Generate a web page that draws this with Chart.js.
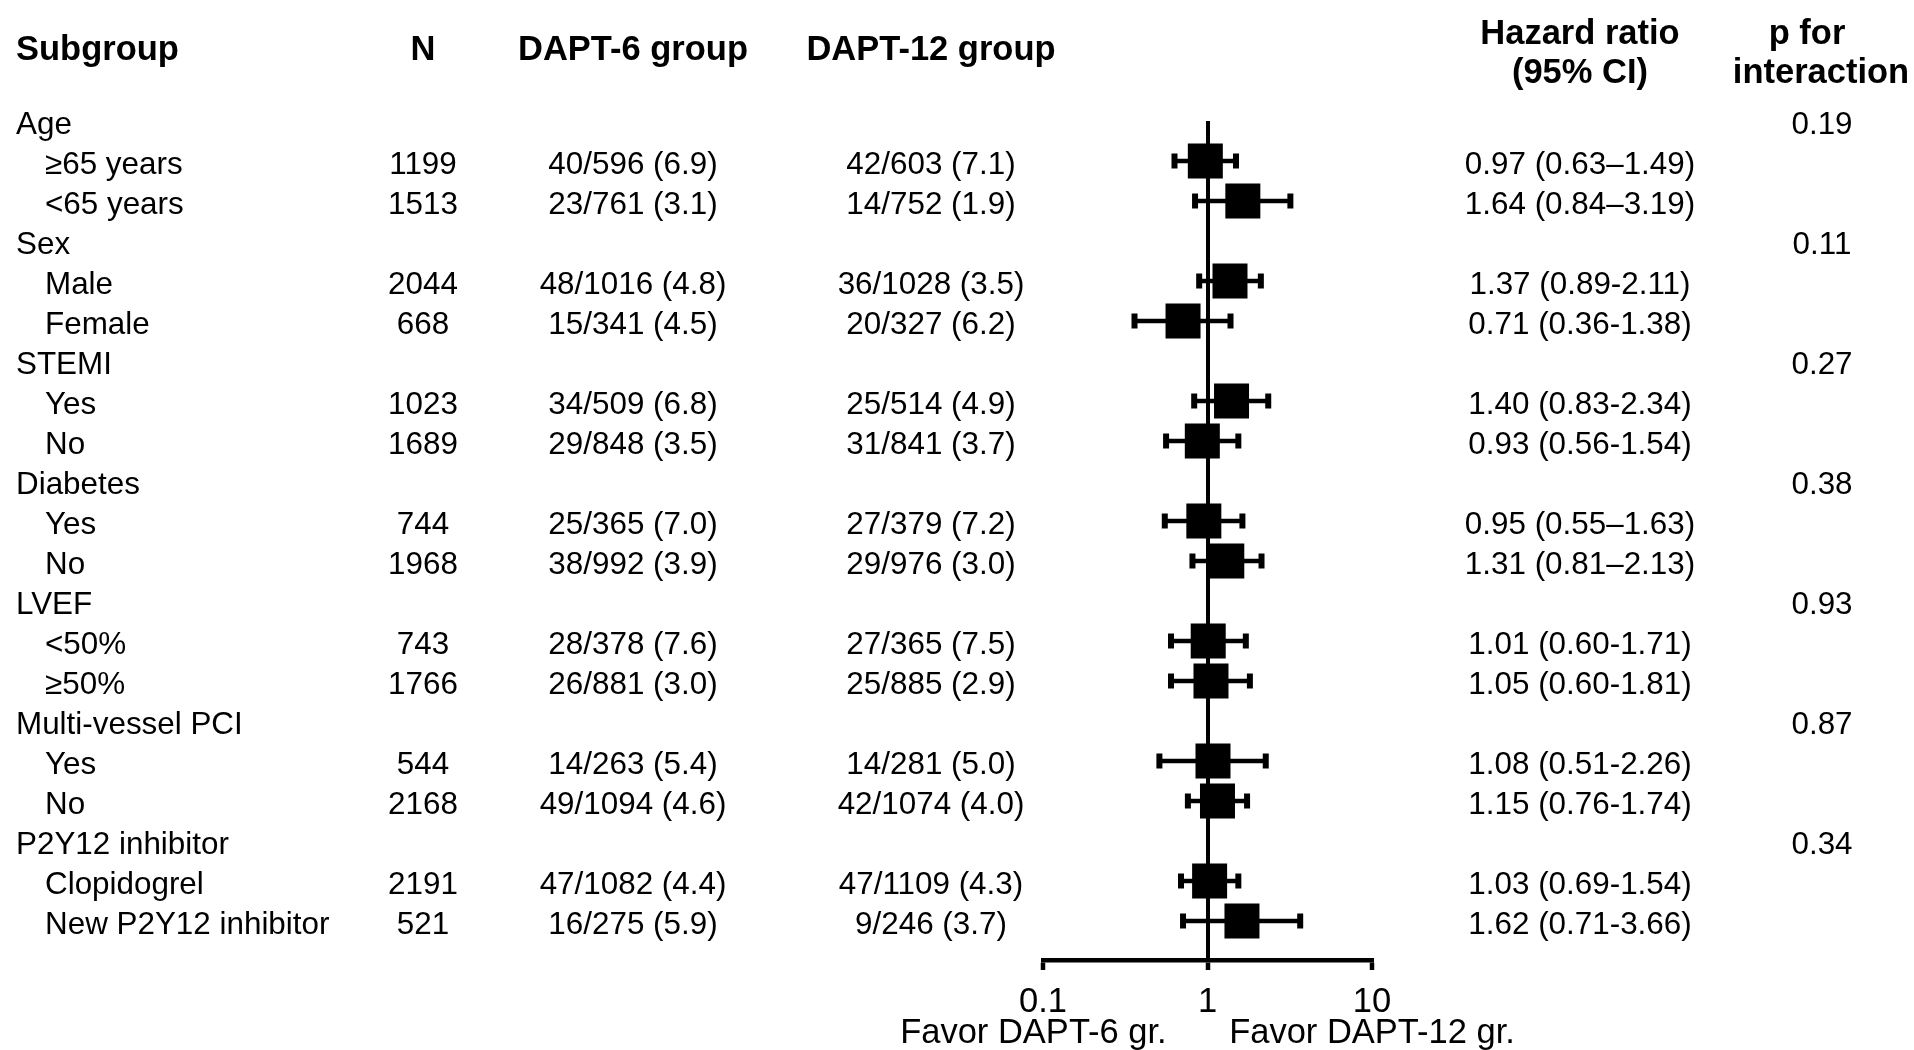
<!DOCTYPE html>
<html>
<head>
<meta charset="utf-8">
<title>Subgroup analysis - forest plot</title>
<script src="https://cdn.jsdelivr.net/npm/chart.js@4.4.1/dist/chart.umd.min.js"></script>
<style>
    html, body { margin: 0; padding: 0; background: #ffffff; }
    #wrap { position: relative; width: 1914px; height: 1050px; }
</style>
</head>
<body>
<div id="wrap"><canvas id="forest-chart"></canvas></div>
<script>
// Table rows (group headings have no N)
const subgroups = ['Age', '≥65 years', '<65 years', 'Sex', 'Male', 'Female', 'STEMI', 'Yes', 'No',
    'Diabetes', 'Yes', 'No', 'LVEF', '<50%', '≥50%', 'Multi-vessel PCI', 'Yes', 'No',
    'P2Y12 inhibitor', 'Clopidogrel', 'New P2Y12 inhibitor'];
const patients = [null, 1199, 1513, null, 2044, 668, null, 1023, 1689, null, 744, 1968,
    null, 743, 1766, null, 544, 2168, null, 2191, 521];
const dapt6Events = ['', '40/596 (6.9)', '23/761 (3.1)', '', '48/1016 (4.8)', '15/341 (4.5)', '',
    '34/509 (6.8)', '29/848 (3.5)', '', '25/365 (7.0)', '38/992 (3.9)', '', '28/378 (7.6)',
    '26/881 (3.0)', '', '14/263 (5.4)', '49/1094 (4.6)', '', '47/1082 (4.4)', '16/275 (5.9)'];
const dapt12Events = ['', '42/603 (7.1)', '14/752 (1.9)', '', '36/1028 (3.5)', '20/327 (6.2)', '',
    '25/514 (4.9)', '31/841 (3.7)', '', '27/379 (7.2)', '29/976 (3.0)', '', '27/365 (7.5)',
    '25/885 (2.9)', '', '14/281 (5.0)', '42/1074 (4.0)', '', '47/1109 (4.3)', '9/246 (3.7)'];

// Hazard ratios with 95% CI
const hazardRatio = [null, 0.97, 1.64, null, 1.37, 0.71, null, 1.40, 0.93, null, 0.95, 1.31,
    null, 1.01, 1.05, null, 1.08, 1.15, null, 1.03, 1.62];
const ciLower = [null, 0.63, 0.84, null, 0.89, 0.36, null, 0.83, 0.56, null, 0.55, 0.81,
    null, 0.60, 0.60, null, 0.51, 0.76, null, 0.69, 0.71];
const ciUpper = [null, 1.49, 3.19, null, 2.11, 1.38, null, 2.34, 1.54, null, 1.63, 2.13,
    null, 1.71, 1.81, null, 2.26, 1.74, null, 1.54, 3.66];
const hrLabels = ['', '0.97 (0.63–1.49)', '1.64 (0.84–3.19)', '', '1.37 (0.89-2.11)', '0.71 (0.36-1.38)', '',
    '1.40 (0.83-2.34)', '0.93 (0.56-1.54)', '', '0.95 (0.55–1.63)', '1.31 (0.81–2.13)', '',
    '1.01 (0.60-1.71)', '1.05 (0.60-1.81)', '', '1.08 (0.51-2.26)', '1.15 (0.76-1.74)', '',
    '1.03 (0.69-1.54)', '1.62 (0.71-3.66)'];
const pInteraction = ['0.19', '', '', '0.11', '', '', '0.27', '', '', '0.38', '', '', '0.93', '', '',
    '0.87', '', '', '0.34', '', ''];

// Axis ticks (trailing spaces nudge the left caption off the 0.1 tick, as in the original)
const tickValues = [0.1, 1, 10];
const tickLabels = [['0.1', 'Favor DAPT-6 gr.  '], '1', ['10', 'Favor DAPT-12 gr.']];

const FONT = '"Liberation Sans", Arial, Helvetica, sans-serif';

// rows that carry an estimate
const estRows = subgroups.map(function (_, i) { return i; })
    .filter(function (i) { return hazardRatio[i] !== null; });

// Draws the table columns next to the plot, aligned on the y scale
const tablePlugin = {
    id: 'tableText',
    afterDraw: function (chart) {
        const ctx = chart.ctx;
        const yScale = chart.scales.y;
        const col = { label: 16, indent: 45, n: 423, dapt6: 633, dapt12: 931, hr: 1580, pv: 1822 };

        ctx.save();
        ctx.fillStyle = '#000';
        ctx.textBaseline = 'alphabetic';

        // header
        ctx.font = 'bold 34.5px ' + FONT;
        ctx.textAlign = 'left';
        ctx.fillText('Subgroup', col.label, 60);
        ctx.textAlign = 'center';
        ctx.fillText('N', col.n, 60);
        ctx.fillText('DAPT-6 group', col.dapt6, 60);
        ctx.fillText('DAPT-12 group', col.dapt12, 60);
        ctx.fillText('Hazard ratio', col.hr, 44);
        ctx.fillText('(95% CI)', col.hr, 83);
        ctx.fillText('p for', 1807, 44);
        ctx.fillText('interaction', 1821, 83);

        // body
        ctx.font = '31.4px ' + FONT;
        subgroups.forEach(function (name, i) {
            const y = yScale.getPixelForValue(i) + 13;
            const isGroup = patients[i] === null;
            ctx.textAlign = 'left';
            ctx.fillText(name, isGroup ? col.label : col.indent, y);
            ctx.textAlign = 'center';
            if (!isGroup) {
                ctx.fillText(String(patients[i]), col.n, y);
            }
            ctx.fillText(dapt6Events[i], col.dapt6, y);
            ctx.fillText(dapt12Events[i], col.dapt12, y);
            ctx.fillText(hrLabels[i], col.hr, y);
            ctx.fillText(pInteraction[i], col.pv, y);
        });
        ctx.restore();
    }
};

// Confidence interval whiskers, one small line per row
const ciDatasets = estRows.map(function (i) {
    return {
        label: subgroups[i] + ' CI',
        data: [{ x: ciLower[i], y: i }, { x: ciUpper[i], y: i }],
        showLine: true,
        borderColor: '#000',
        borderWidth: 4.5,
        pointStyle: 'line',
        pointRotation: 90,
        pointRadius: 7.5,
        pointHoverRadius: 7.5,
        pointBorderWidth: 6,
        pointBorderColor: '#000',
        order: 1
    };
});

const ctx = document.getElementById('forest-chart').getContext('2d');
const forestChart = new Chart(ctx, {
    type: 'scatter',
    data: {
        datasets: [{
            label: 'Hazard ratio',
            data: estRows.map(function (i) { return { x: hazardRatio[i], y: i }; }),
            pointStyle: 'rect',
            pointRadius: 24.75,
            pointHoverRadius: 24.75,
            pointBackgroundColor: '#000',
            pointBorderWidth: 0,
            order: 0
        }].concat(ciDatasets)
    },
    options: {
        responsive: true,
        maintainAspectRatio: false,
        animation: false,
        layout: {
            padding: { left: 1043, right: 542, top: 121, bottom: 0 }
        },
        plugins: {
            legend: { display: false },
            tooltip: { enabled: false }
        },
        scales: {
            x: {
                type: 'logarithmic',
                min: 0.1,
                max: 10,
                afterBuildTicks: function (scale) {
                    scale.ticks = tickValues.map(function (v) { return { value: v }; });
                },
                afterFit: function (scale) {
                    scale.height = 90;
                },
                border: { display: true, color: '#000', width: 4.5 },
                grid: {
                    color: function (c) {
                        return c.tick && c.tick.value === 1 ? '#000' : 'rgba(0,0,0,0)';
                    },
                    lineWidth: 4,
                    tickColor: '#000',
                    tickLength: 10,
                    tickWidth: 4.5
                },
                ticks: {
                    autoSkip: false,
                    maxRotation: 0,
                    minRotation: 0,
                    padding: 16.5,
                    color: '#000',
                    font: { family: FONT, size: 34.5, lineHeight: 0.9 },
                    callback: function (value) {
                        return tickLabels[tickValues.indexOf(value)];
                    }
                }
            },
            y: {
                type: 'linear',
                reverse: true,
                min: 0,
                max: 20.975,
                display: false
            }
        }
    },
    plugins: [tablePlugin]
});
</script>
</body>
</html>
